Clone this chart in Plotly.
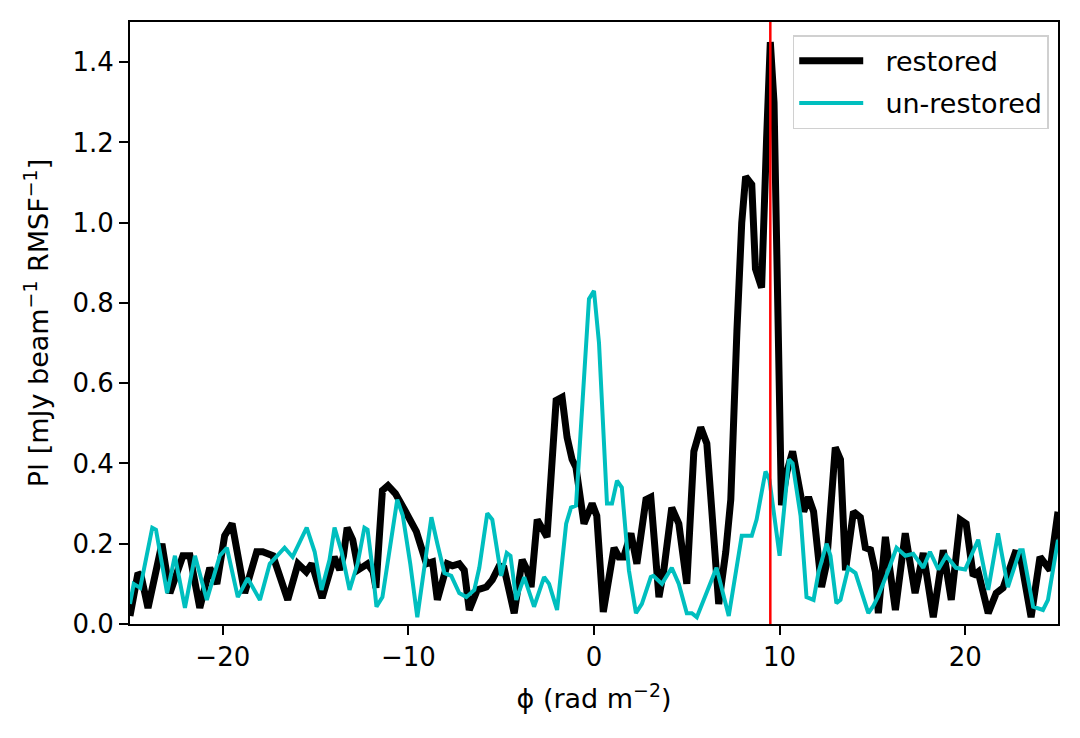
import plotly.graph_objects as go

# Faraday depth spectrum: restored vs un-restored polarised intensity
phi_restored = [
    -25.0, -24.57, -24.4, -24.03, -23.28, -22.85, -22.15, -21.77, -21.24, -20.7,
    -20.32, -19.9, -19.5, -18.82, -18.17, -17.85, -17.3, -16.5, -15.95, -15.5,
    -15.2, -14.65, -14.0, -13.7, -13.5, -13.3, -13.0, -12.7, -12.2, -11.9,
    -11.75, -11.4, -11.1, -10.7, -10.2, -9.95, -9.57, -9.03, -8.7, -8.44,
    -8.17, -7.9, -7.63, -7.26, -6.99, -6.72, -6.29, -5.8, -5.48, -5.1,
    -4.85, -4.3, -3.87, -3.6, -3.39, -3.06, -2.53, -2.04, -1.72, -1.45,
    -1.18, -0.97, -0.54, -0.1, 0.15, 0.5, 1.08, 1.34, 1.6, 1.99,
    2.31, 2.8, 3.06, 3.5, 3.76, 4.19, 4.57, 5.0, 5.38, 5.75,
    6.08, 6.45, 6.72, 7.1, 7.37, 7.7, 7.96, 8.17, 8.5, 8.7,
    9.03, 9.3, 9.5, 9.7, 10.1, 10.4, 10.7, 11.3, 11.56, 11.83,
    12.26, 12.53, 13.0, 13.28, 13.55, 13.98, 14.35, 14.62, 14.9, 15.16,
    15.32, 15.7, 16.24, 16.77, 17.3, 17.74, 18.28, 18.82, 19.25, 19.73,
    20.05, 20.43, 20.7, 21.24, 21.67, 22.04, 22.69, 22.95, 23.55, 24.03,
    24.57, 25.0,
]
pi_restored = [
    0.02, 0.127, 0.12, 0.04, 0.20, 0.077, 0.17, 0.17, 0.04, 0.14,
    0.10, 0.22, 0.25, 0.077, 0.18, 0.18, 0.17, 0.06, 0.15, 0.13,
    0.15, 0.065, 0.167, 0.135, 0.17, 0.24, 0.21, 0.135, 0.15, 0.13,
    0.09, 0.333, 0.345, 0.325, 0.284, 0.26, 0.23, 0.15, 0.155, 0.06,
    0.11, 0.15, 0.145, 0.15, 0.134, 0.035, 0.085, 0.092, 0.11, 0.145,
    0.14, 0.027, 0.16, 0.134, 0.092, 0.26, 0.217, 0.557, 0.565, 0.465,
    0.41, 0.39, 0.25, 0.30, 0.27, 0.03, 0.19, 0.167, 0.167, 0.226,
    0.15, 0.31, 0.316, 0.067, 0.134, 0.29, 0.25, 0.10, 0.43, 0.49,
    0.45, 0.21, 0.05, 0.18, 0.31, 0.73, 1.0, 1.115, 1.095, 0.885,
    0.838, 1.21, 1.45, 1.30, 0.296, 0.38, 0.43, 0.28, 0.316, 0.28,
    0.092, 0.15, 0.44, 0.41, 0.134, 0.28, 0.266, 0.19, 0.185, 0.13,
    0.027, 0.217, 0.035, 0.226, 0.077, 0.177, 0.017, 0.184, 0.06, 0.26,
    0.25, 0.12, 0.13, 0.027, 0.077, 0.09, 0.177, 0.175, 0.017, 0.167,
    0.134, 0.28,
]

phi_unrestored = [
    -25.0, -24.8, -24.45, -23.8, -23.6, -23.0, -22.58, -22.04, -21.5, -20.86,
    -20.16, -19.78, -19.19, -18.66, -18.0, -17.47, -16.67, -16.24, -15.48, -15.05,
    -14.68, -14.25, -13.98, -13.6, -13.17, -12.74, -12.37, -12.2, -11.94, -11.72,
    -11.4, -10.9, -10.6, -10.3, -9.9, -9.52, -8.76, -8.44, -8.06, -7.69,
    -7.26, -6.88, -6.45, -6.18, -5.75, -5.48, -5.0, -4.7, -4.5, -4.19,
    -3.76, -3.23, -2.69, -2.42, -1.99, -1.5, -1.24, -0.97, -0.54, -0.27,
    0.0, 0.27, 0.7, 0.97, 1.24, 1.5, 1.88, 2.26, 2.58, 3.06,
    3.2, 3.66, 4.19, 4.57, 5.0, 5.27, 5.54, 6.0, 6.6, 7.26,
    7.96, 8.5, 8.76, 9.24, 9.45, 10.0, 10.5, 10.7, 11.13, 11.45,
    11.83, 12.1, 12.53, 12.74, 13.06, 13.28, 13.7, 14.09, 14.78, 15.05,
    15.32, 15.86, 16.3, 16.77, 17.2, 17.74, 18.1, 18.55, 18.98, 19.5,
    20.0, 20.7, 21.24, 21.77, 22.3, 22.95, 23.1, 23.66, 24.19, 24.46,
    25.0,
]
pi_unrestored = [
    0.05, 0.10, 0.09, 0.24, 0.235, 0.077, 0.17, 0.04, 0.17, 0.06,
    0.17, 0.19, 0.067, 0.114, 0.06, 0.15, 0.19, 0.167, 0.24, 0.18,
    0.085, 0.16, 0.24, 0.18, 0.085, 0.15, 0.24, 0.235, 0.14, 0.043,
    0.067, 0.21, 0.31, 0.27, 0.15, 0.017, 0.266, 0.20, 0.127, 0.12,
    0.077, 0.067, 0.085, 0.14, 0.276, 0.26, 0.12, 0.177, 0.17, 0.06,
    0.117, 0.043, 0.117, 0.10, 0.035, 0.25, 0.29, 0.295, 0.63, 0.81,
    0.83, 0.70, 0.30, 0.30, 0.357, 0.34, 0.134, 0.027, 0.05, 0.117,
    0.12, 0.10, 0.14, 0.10, 0.027, 0.027, 0.017, 0.07, 0.14, 0.02,
    0.22, 0.22, 0.26, 0.38, 0.36, 0.17, 0.41, 0.40, 0.27, 0.067,
    0.06, 0.13, 0.20, 0.17, 0.052, 0.06, 0.14, 0.127, 0.027, 0.045,
    0.07, 0.134, 0.19, 0.17, 0.175, 0.14, 0.18, 0.136, 0.17, 0.14,
    0.136, 0.21, 0.085, 0.226, 0.092, 0.184, 0.184, 0.043, 0.035, 0.06,
    0.21,
]

phi_marker = 9.5
x_ticks = [-20, -10, 0, 10, 20]
y_ticks = [0.0, 0.2, 0.4, 0.6, 0.8, 1.0, 1.2, 1.4]

FONT = "DejaVu Sans, Arial, sans-serif"
FS = 26
PAD = "\u00a0\u00a0"  # small gap between legend line and its label

fig = go.Figure()
fig.add_trace(go.Scatter(
    x=phi_restored, y=pi_restored, mode="lines", name=PAD + "restored",
    legendgroup="a", line=dict(color="black", width=7),
))
fig.add_trace(go.Scatter(
    x=phi_unrestored, y=pi_unrestored, mode="lines", name=PAD + "un-restored",
    legendgroup="b", line=dict(color="#00bfbf", width=4),
))
fig.add_vline(x=phi_marker, line=dict(color="red", width=2.5), layer="above")

axis_common = dict(
    showline=True, linecolor="black", linewidth=2, mirror=True,
    ticks="outside", ticklen=9, tickwidth=2, tickcolor="black",
    showgrid=False, zeroline=False,
    tickfont=dict(family=FONT, size=FS, color="black"),
)
fig.update_xaxes(
    range=[-25, 25], tickvals=x_ticks,
    title=dict(text="ϕ (rad m<sup>−2</sup>)", font=dict(family=FONT, size=FS + 1, color="black"), standoff=18),
    **axis_common,
)
fig.update_yaxes(
    range=[0, 1.5], tickvals=y_ticks, tickformat=".1f",
    title=dict(text="PI [mJy beam<sup>−1</sup> RMSF<sup>−1</sup>]", font=dict(family=FONT, size=FS + 1, color="black"), standoff=16),
    **axis_common,
)
# page body adds ~8px offset, so the figure is slightly smaller than the window
fig.update_layout(
    width=1064, height=722,
    margin=dict(l=122, r=12, t=12, b=106),
    paper_bgcolor="white", plot_bgcolor="white",
    font=dict(family=FONT, size=FS, color="black"),
    showlegend=True,
    legend=dict(
        x=0.99, y=0.978, xanchor="right", yanchor="top",
        bgcolor="white", bordercolor="#d0d0d0", borderwidth=1.5,
        font=dict(family=FONT, size=FS + 1, color="black"),
        tracegroupgap=4, itemwidth=64,
    ),
)

fig.write_html("out.html")
